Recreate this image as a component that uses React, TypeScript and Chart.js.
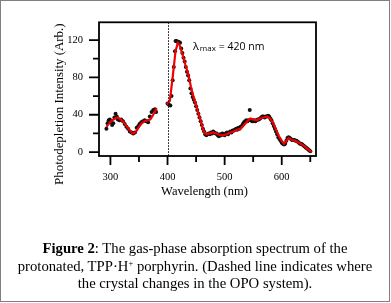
import React, { useEffect, useRef } from "react";
import { Chart, registerables } from "chart.js";

Chart.register(...registerables);

// Measured points (wavelength nm / photodepletion intensity)
const DOT_NM = [
  293, 295, 297, 299, 301, 303, 305, 307, 309, 311, 313, 316, 319, 322, 325, 328, 331, 334, 337, 340,
  343, 346, 349, 351, 354, 357, 360, 363, 366, 369, 372, 375, 378, 380,
  400, 402, 405, 407, 409, 411, 413, 414, 416, 418, 420, 422, 424, 426, 428, 430, 432, 434, 436, 438,
  440, 442, 444, 446, 448, 450, 452, 454, 456, 458, 460, 462, 464, 466, 468, 470, 472, 474, 476, 478,
  480, 482, 484, 486, 488, 490, 492, 494, 496, 498, 500, 502, 504, 506, 508, 510, 512, 514, 516, 518,
  520, 522, 524, 526, 528, 530, 532, 534, 536, 538, 540, 542, 544, 546, 548, 550, 552, 554, 556, 558,
  560, 562, 564, 566, 568, 570, 572, 574, 576, 578, 580, 582, 584, 586, 588, 590, 592, 594, 596, 598,
  600, 602, 604, 606, 608, 610, 612, 614, 616, 618, 620, 622, 624, 626, 628, 630, 632, 634, 636, 638,
  640, 642, 644, 646, 648, 650,
];
const DOT_VAL = [
  25, 31, 34, 35, 32, 29, 31, 37, 41, 38, 35, 34, 35, 33, 30, 27, 25, 22, 21, 20,
  21, 26, 28, 30, 32, 33, 34, 33, 32, 38, 43, 45, 46, 43,
  52, 51, 50, 60, 77, 91, 108, 119, 119, 118, 118, 117, 111, 106, 101, 97, 91, 86, 82, 77,
  68, 63, 59, 56, 53, 49, 45, 41, 37, 33, 29, 25, 22, 19, 18, 19, 20, 19, 21, 20,
  22, 21, 20, 20, 18, 17, 19, 18, 20, 19, 18, 20, 21, 19, 21, 22, 21, 23, 23, 24,
  25, 24, 26, 25, 27, 28, 30, 32, 33, 34, 33, 34, 45, 34, 33, 33, 34, 33, 34, 35,
  35, 36, 37, 38, 38, 37, 38, 38, 39, 38, 36, 34, 31, 28, 25, 22, 19, 16, 14, 12,
  10, 9, 8, 9, 12, 15, 16, 15, 14, 13, 13, 13, 12, 12, 11, 10, 9, 9, 8, 7,
  6, 5, 4, 3, 2, 1,
];

// Smoothed fit, two segments (OPO crystal change at 400 nm)
const FIT1_NM = [293, 298, 303, 308, 313, 318, 323, 328, 333, 338, 341, 345, 350, 355, 360, 365, 370, 375, 381];
const FIT1_VAL = [27, 31, 34, 36, 37, 35, 32, 28, 24, 20.5, 20, 22, 27, 31, 33, 34, 35, 40, 47];
const FIT2_NM = [
  399, 404, 409, 414, 418, 421, 426, 431, 436, 441, 446, 451, 456, 461, 464, 468, 474, 480, 486, 492,
  498, 504, 510, 516, 522, 528, 534, 540, 545, 550, 556, 562, 568, 575, 580, 585, 590, 595, 600, 604,
  608, 612, 618, 624, 630, 636, 642, 648, 652,
];
const FIT2_VAL = [
  51, 55, 80, 108, 117, 115, 105, 94, 84, 70, 58, 48, 38, 27, 21, 19, 20, 21, 20, 18,
  18, 19, 21, 22, 24, 25, 29, 33, 36, 35, 34, 36, 37, 38, 36, 31, 24, 17, 12, 9,
  12, 15, 13, 12, 10, 8, 5, 2, 0,
];

const X_LABELS = [300, 400, 500, 600];
const X_MINOR = [350, 450, 550, 650];
const Y_LABELS = [0, 40, 80, 120];
const Y_MINOR = [20, 60, 100];
const CRYSTAL_CHANGE_NM = 400;
const PEAK_NM = 420;

const pts = (xs: number[], ys: number[]) => xs.map((x, i) => ({ x, y: ys[i] }));

const SERIF = '"Liberation Serif", "Times New Roman", serif';

const decor = {
  id: "decor",
  afterDatasetsDraw(chart: any) {
    const { ctx, chartArea: a, scales } = chart;
    const xs = scales.x;
    const ys = scales.y;
    ctx.save();
    // dotted crystal-change line
    const xd = Math.round(xs.getPixelForValue(CRYSTAL_CHANGE_NM)) + 0.5;
    ctx.strokeStyle = "#000";
    ctx.lineWidth = 1;
    ctx.setLineDash([1.5, 1.5]);
    ctx.beginPath();
    ctx.moveTo(xd, a.top);
    ctx.lineTo(xd, a.bottom);
    ctx.stroke();
    ctx.setLineDash([]);
    // frame
    ctx.lineWidth = 1.8;
    ctx.strokeRect(a.left, a.top, a.right - a.left, a.bottom - a.top);
    // ticks
    ctx.beginPath();
    const tickY = (v: number, len: number) => {
      const y = ys.getPixelForValue(v);
      ctx.moveTo(a.left, y);
      ctx.lineTo(a.left - len, y);
    };
    const tickX = (v: number, len: number) => {
      const x = xs.getPixelForValue(v);
      ctx.moveTo(x, a.bottom);
      ctx.lineTo(x, a.bottom + len);
    };
    Y_LABELS.forEach((v) => tickY(v, 10));
    Y_MINOR.forEach((v) => tickY(v, 6));
    X_LABELS.forEach((v) => tickX(v, 9));
    X_MINOR.forEach((v) => tickX(v, 6));
    ctx.stroke();
    // axis titles
    ctx.fillStyle = "#000";
    ctx.font = `12.5px ${SERIF}`;
    ctx.textAlign = "center";
    ctx.textBaseline = "alphabetic";
    ctx.fillText("Wavelength (nm)", (a.left + a.right) / 2 - 3, a.bottom + 39);
    ctx.save();
    ctx.font = `12.9px ${SERIF}`;
    ctx.translate(a.left - 36, (a.top + a.bottom) / 2 + 15);
    ctx.rotate(-Math.PI / 2);
    ctx.fillText("Photodepletion Intensity (Arb.)", 0, 0);
    ctx.restore();
    // annotation
    const sans = '"Open Sans", "Liberation Sans", sans-serif';
    let x = xs.getPixelForValue(PEAK_NM) + 14;
    const base = a.top + 28;
    ctx.textAlign = "left";
    ctx.font = `11px ${sans}`;
    ctx.fillText("λ", x, base);
    x += ctx.measureText("λ").width + 1;
    ctx.font = `8px ${sans}`;
    ctx.fillText("max", x, base + 0.5);
    x += ctx.measureText("max").width + 3;
    ctx.font = `10.5px ${sans}`;
    ctx.fillText("= 420 nm", x, base);
    ctx.restore();
  },
};

export default function App() {
  const ref = useRef<HTMLCanvasElement>(null);
  useEffect(() => {
    if (!ref.current) return;
    const chart = new Chart(ref.current, {
      type: "scatter",
      data: {
        datasets: [
          {
            data: pts(FIT1_NM, FIT1_VAL),
            showLine: true,
            borderColor: "#f00000",
            borderWidth: 2.2,
            pointRadius: 0,
            order: 0,
          },
          {
            data: pts(FIT2_NM, FIT2_VAL),
            showLine: true,
            borderColor: "#f00000",
            borderWidth: 2.2,
            pointRadius: 0,
            order: 0,
          },
          {
            data: pts(DOT_NM, DOT_VAL),
            showLine: false,
            pointRadius: 2,
            pointBackgroundColor: "#111",
            pointBorderWidth: 0,
            order: 1,
          },
        ],
      } as any,
      options: {
        animation: false,
        responsive: true,
        maintainAspectRatio: false,
        layout: { padding: { top: 19, right: 75, left: 0, bottom: 0 } },
        plugins: { legend: { display: false }, tooltip: { enabled: false } },
        scales: {
          x: {
            type: "linear",
            min: 280,
            max: 660,
            grid: { display: false, drawTicks: false },
            border: { display: false },
            ticks: {
              stepSize: 50,
              includeBounds: false,
              padding: 15,
              color: "#000",
              font: { family: SERIF, size: 10.5 },
              maxRotation: 0,
              autoSkip: false,
              callback: (v: any) => (X_LABELS.includes(Number(v)) ? String(v) : null),
            },
            afterFit: (s: any) => {
              s.height = 147;
            },
          },
          y: {
            min: -4.2,
            max: 139,
            grid: { display: false, drawTicks: false },
            border: { display: false },
            ticks: {
              stepSize: 20,
              includeBounds: false,
              padding: 16,
              color: "#000",
              font: { family: SERIF, size: 10.5 },
              autoSkip: false,
              callback: (v: any) => (Y_LABELS.includes(Number(v)) ? String(v) : null),
            },
            afterFit: (s: any) => {
              s.width = 99;
            },
          },
        },
      } as any,
      plugins: [decor],
    });
    return () => chart.destroy();
  }, []);

  return (
    <div style={{ position: "absolute", left: 0, top: 0, width: 391, height: 303, background: "#fff" }}>
      <div style={{ position: "absolute", left: 0, top: 0, width: 391, height: 303 }}>
        <canvas ref={ref} />
      </div>
      <div
        style={{
          position: "absolute",
          left: 0,
          top: 240.3,
          width: 390,
          textAlign: "center",
          fontFamily: SERIF,
          fontSize: 14.7,
          lineHeight: "17.5px",
          color: "#000",
          whiteSpace: "nowrap",
        }}
      >
        <b>Figure 2</b>: The gas-phase absorption spectrum of the
        <br />
        protonated, TPP·H
        <span style={{ fontSize: 8.5, verticalAlign: 5, lineHeight: 0 }}>+</span> porphyrin. (Dashed line indicates where
        <br />
        the crystal changes in the OPO system).
      </div>
      <div
        style={{
          position: "absolute",
          left: 0,
          top: 0,
          width: 390,
          height: 302,
          boxSizing: "border-box",
          border: "1.5px solid #808080",
          pointerEvents: "none",
        }}
      />
    </div>
  );
}
